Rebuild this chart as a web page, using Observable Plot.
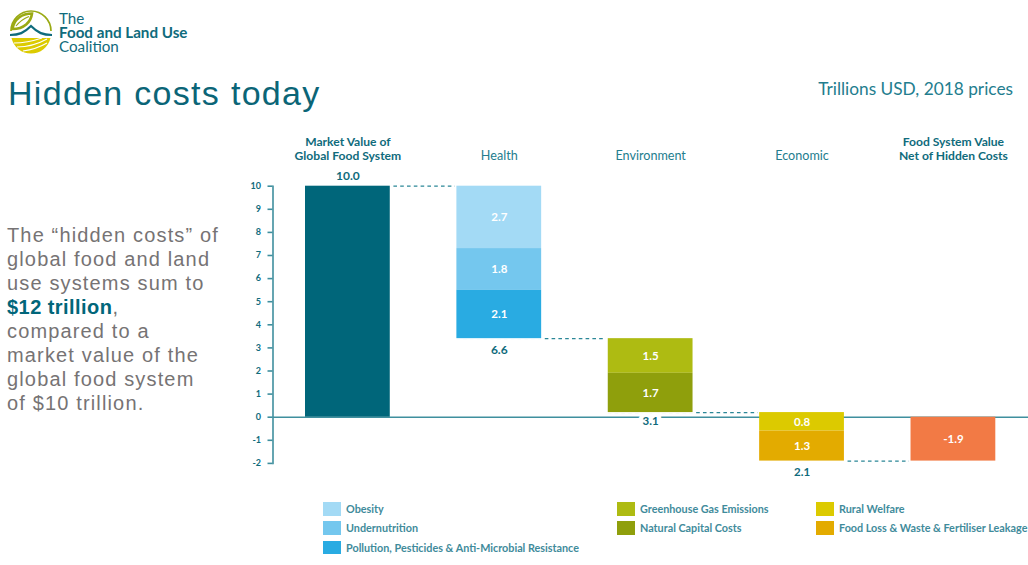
<!DOCTYPE html>
<html>
<head>
<meta charset="utf-8">
<script src="https://cdn.jsdelivr.net/npm/d3@7"></script>
<script src="https://cdn.jsdelivr.net/npm/@observablehq/plot@0.6"></script>
<style>
  html, body { margin: 0; padding: 0; background: #fff; }
  #page { position: relative; width: 1028px; height: 565px; overflow: hidden; font-family: Lato, sans-serif; }
  #page > * { position: absolute; }
  #chart svg { display: block; background: transparent; }
  .brand { left: 59px; top: 11px; color: #0f6b7c; font-size: 15.2px; }
  .brand div { height: 14px; line-height: 14px; white-space: nowrap; }
  .brand b { font-weight: 700; }
  h1 { margin: 0; left: 8px; top: 73px; font: 400 34px/40px "Liberation Sans", sans-serif; letter-spacing: 1.3px; color: #0b6577; white-space: nowrap; }
  .unit { right: 15px; top: 78px; font-size: 17.3px; line-height: 22px; color: #237d8e; white-space: nowrap; }
  .note { left: 7px; top: 223px; font: 400 20px/24px "Liberation Sans", sans-serif; letter-spacing: 1.15px; color: #767374; white-space: nowrap; }
  .note b { color: #00667a; letter-spacing: 0.45px; }
  .key { display: flex; align-items: center; gap: 5px; font-size: 10.8px; font-weight: 700; color: #3f8b9b; white-space: nowrap; }
  .key i { display: block; width: 18px; height: 13.5px; }
</style>
</head>
<body>
<div id="page">
  <svg class="logo" style="left:9px;top:10px" width="44" height="44" viewBox="0 0 44 44" fill="none">
    <path d="M2 21 A20 20 0 0 1 42 21" stroke="#9aaa14" stroke-width="1.7"/>
    <path d="M3.5 19 C5 9 13 3.5 23 3.5 C22 12 15 19 3.5 19Z" fill="#fff" stroke="#9aaa14" stroke-width="2.6"/>
    <path d="M7 16 C11 11 15 8.5 20 6.5" stroke="#9aaa14" stroke-width="1.2"/>
    <path d="M1 25 C10 25 15 23 22 16 C29 23 34 25 43 25" stroke="#0f6b7c" stroke-width="2.2"/>
    <path d="M2.5 28 L41.5 28 A20 20 0 0 1 2.5 28Z" fill="#dccb00"/>
    <path d="M5 33 C14 33 24 31 33 28 M8 37 C18 37 29 34 38 29 M14 41 C22 40 31 37 38 33" stroke="#fff" stroke-width="1.1"/>
  </svg>
  <div class="brand"><div>The</div><div><b>Food and Land Use</b></div><div>Coalition</div></div>
  <h1>Hidden costs today</h1>
  <div class="unit">Trillions USD, 2018 prices</div>
  <div class="note">The “hidden costs” of<br>global food and land<br>use systems sum to<br><b>$12 trillion</b>,<br>compared to a<br>market value of the<br>global food system<br>of $10 trillion.</div>
  <div id="chart"></div>
</div>
<script>
// Waterfall columns, left to right
const columns = ["Market Value of\nGlobal Food System", "Health", "Environment", "Economic", "Food System Value\nNet of Hidden Costs"];
const summaryColumns = [columns[0], columns[4]];
const costColumns = columns.slice(1, 4);

// Cost components, trillions USD
const components = ["Market value", "Obesity", "Undernutrition", "Pollution, Pesticides & Anti-Microbial Resistance",
  "Greenhouse Gas Emissions", "Natural Capital Costs", "Rural Welfare", "Food Loss & Waste & Fertiliser Leakage", "Net value"];
const componentColumn = [0, 1, 1, 1, 2, 2, 3, 3, 4];
const componentValue = [10, 2.7, 1.8, 2.1, 1.5, 1.7, 0.8, 1.3, -1.9];
const componentColor = ["#00667a", "#a3daf5", "#74c7ee", "#29abe2", "#aebb12", "#8f9f0c", "#dcca00", "#e3ab00", "#f27a45"];

// Column totals printed next to the bars
const totalLabels = ["10.0", "6.6", "3.1", "2.1"];
const yTicks = [-2, -1, 0, 1, 2, 3, 4, 5, 6, 7, 8, 9, 10];

// Legend layout: [component index, column left edge, row]
const legendEntries = [[1, 323, 0], [2, 323, 1], [3, 323, 2], [4, 617, 0], [5, 617, 1], [6, 816, 0], [7, 816, 1]];
const legendRowTops = [502, 521, 540.5];

// Walk the waterfall: each cost steps down from the running level
let level = 0;
const segments = componentValue.map((v, i) => {
  const col = columns[componentColumn[i]];
  let top, bottom;
  if (i === 0) { top = v; bottom = 0; level = v; }
  else if (v < 0) { top = 0; bottom = v; }
  else { top = level; bottom = level - v; level = bottom; }
  return {col, top, bottom, mid: (top + bottom) / 2, value: v, label: v.toFixed(1), color: componentColor[i]};
}).map(d => ({...d, top: +d.top.toFixed(2), bottom: +d.bottom.toFixed(2)}));

const blocks = columns.map(col => {
  const s = segments.filter(d => d.col === col);
  return {col, top: d3.max(s, d => d.top), bottom: d3.min(s, d => d.bottom)};
});

// Dashed steps joining one column's resting level to the next column
const steps = blocks.slice(0, 4).map((b, i) => ({
  from: b.col, to: blocks[i + 1].col, y: i === 0 ? b.top : b.bottom
}));

const totals = blocks.slice(0, 4).map((b, i) => ({col: b.col, y: i === 0 ? b.top : b.bottom, label: totalLabels[i]}));
const valueLabels = segments.filter(d => d.col !== columns[0]);

const teal = "#0f6b7c";
const axisColor = "#3f8f9e";

const chart = Plot.plot({
  width: 1028,
  height: 565,
  marginTop: 185.7,
  marginBottom: 102.1,
  marginLeft: 272.5,
  marginRight: 0,
  style: {fontFamily: "Lato, sans-serif", background: "transparent"},
  x: {type: "band", domain: columns, range: [305, 995.3], paddingInner: 0.44, paddingOuter: 0, round: false, label: null},
  y: {domain: [-2, 10], label: null},
  marks: [
    Plot.ruleY(steps, {y: "y", x1: "from", x2: "to", stroke: "#2b8797", strokeWidth: 1.2, strokeDasharray: "3.6 3.2"}),
    // White outline keeps the dashes clear of each bar's edge
    Plot.rectY(blocks, {x: "col", y1: "bottom", y2: "top", fill: "white", stroke: "white", strokeWidth: 3.5}),
    Plot.frame({anchor: "left", stroke: axisColor, strokeWidth: 1.6}),
    Plot.axisY({ticks: yTicks, tickSize: 5, tickPadding: 7, stroke: axisColor, strokeWidth: 1.6, color: teal,
      fontSize: 9, fontWeight: 700, tickFormat: d => d3.format("d")(d).replace("−", "-"), label: null}),
    Plot.ruleY([0], {stroke: axisColor, strokeWidth: 1.6}),
    // White gap in the baseline behind the 3.1 label
    Plot.text(totals.filter(d => d.label === "3.1"), {x: "col", y: 0, text: "label", dy: 4, fontSize: 11.5,
      fontWeight: 700, fill: "white", stroke: "white", strokeWidth: 9}),
    Plot.rectY(segments, {x: "col", y1: "bottom", y2: "top", fill: "color"}),
    Plot.text(valueLabels, {x: "col", y: "mid", text: "label", fill: "white", fontSize: 11.5, fontWeight: 700}),
    Plot.text(totals.slice(0, 1), {x: "col", y: "y", text: "label", dy: -10.5, fill: teal, fontSize: 12, fontWeight: 700}),
    Plot.text(totals.filter(d => d.label === "6.6"), {x: "col", y: "y", text: "label", dy: 11, fill: teal, fontSize: 12, fontWeight: 700}),
    Plot.text(totals.filter(d => d.label === "3.1"), {x: "col", y: 0, text: "label", dy: 4, fill: teal, fontSize: 11.5, fontWeight: 700}),
    Plot.text(totals.filter(d => d.label === "2.1"), {x: "col", y: "y", text: "label", dy: 11, fill: teal, fontSize: 11.5, fontWeight: 700}),
    Plot.axisX({anchor: "top", ticks: summaryColumns, tickSize: 0, tickPadding: 26, color: teal, fontSize: 12.1, fontWeight: 700, label: null, lineHeight: 1.16}),
    Plot.axisX({anchor: "top", ticks: costColumns, tickSize: 0, tickPadding: 26, color: "#237d8e", fontSize: 12.6, fontWeight: 400, label: null})
  ]
});
document.getElementById("chart").append(chart);

// Swatch legend under the chart
const page = document.getElementById("page");
for (const [i, left, row] of legendEntries) {
  const key = document.createElement("div");
  key.className = "key";
  key.style.left = left + "px";
  key.style.top = legendRowTops[row] + "px";
  const swatch = document.createElement("i");
  swatch.style.background = componentColor[i];
  key.append(swatch, components[i]);
  page.append(key);
}
</script>
</body>
</html>
